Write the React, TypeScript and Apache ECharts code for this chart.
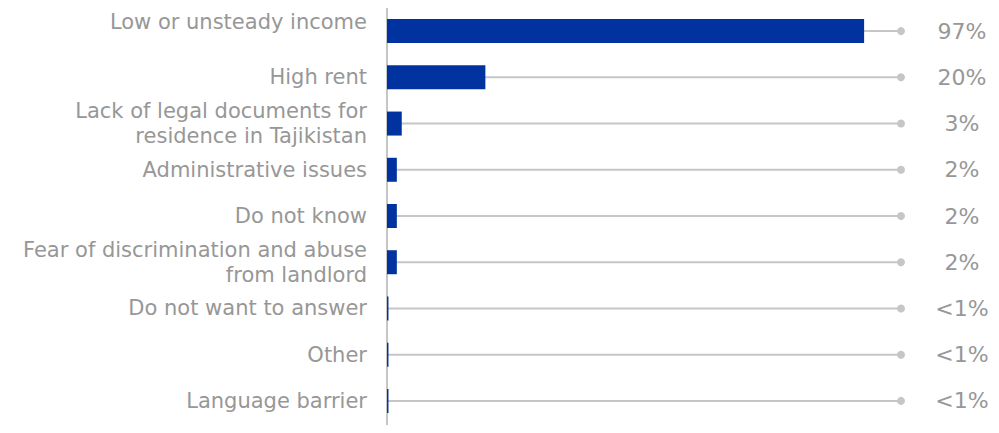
import React, { useEffect, useRef } from "react";
import * as echarts from "echarts";

const categories = [
  "Low or unsteady income",
  "High rent",
  "Lack of legal documents for\nresidence in Tajikistan",
  "Administrative issues",
  "Do not know",
  "Fear of discrimination and abuse\nfrom landlord",
  "Do not want to answer",
  "Other",
  "Language barrier",
];
const values = [97, 20, 3, 2, 2, 2, 0.3, 0.3, 0.3];
const valueLabels = ["97%", "20%", "3%", "2%", "2%", "2%", "<1%", "<1%", "<1%"];
const trackEnd = 104.5;

const TEXT = "#979797";
const TRACK = "#c6c6c6";
const BAR = "#0033a0";
const FONT = "'DejaVu Sans', sans-serif";
const CAT_SIZE = 21;
const CAT_LH = 24.6;

export default function App() {
  const ref = useRef<HTMLDivElement>(null);
  useEffect(() => {
    if (!ref.current) return;
    const chart = echarts.init(ref.current, null, { renderer: "svg" });
    chart.setOption({
      animation: false,
      grid: { left: 387, top: 8, width: 514, height: 416 },
      xAxis: {
        type: "value",
        min: 0,
        max: trackEnd,
        show: false,
      },
      yAxis: [
        {
          type: "category",
          data: categories,
          inverse: true,
          axisTick: { show: false },
          axisLine: { show: true, lineStyle: { color: TRACK, width: 2 } },
          axisLabel: {
            margin: 20,
            color: TEXT,
            fontSize: CAT_SIZE,
            fontFamily: FONT,
            lineHeight: CAT_LH,
            align: "right",
            formatter: (v: string, i: number) => (i === 0 ? `{up|${v}}` : v),
            rich: {
              up: {
                color: TEXT,
                fontSize: CAT_SIZE,
                fontFamily: FONT,
                lineHeight: CAT_LH,
                padding: [0, 0, 18, 0],
              },
            },
          },
        },
        {
          type: "category",
          data: valueLabels,
          inverse: true,
          position: "right",
          axisTick: { show: false },
          axisLine: { show: false },
          axisLabel: {
            margin: 61,
            color: TEXT,
            fontSize: 22,
            fontFamily: FONT,
            align: "center",
            padding: [4, 0, 0, 0],
          },
        },
      ],
      graphic: [
        {
          type: "line",
          shape: { x1: 387, y1: 423, x2: 387, y2: 433 },
          style: { stroke: TRACK, lineWidth: 2 },
        },
      ],
      series: [
        {
          type: "custom",
          z: 1,
          data: categories.map((_, i) => [trackEnd, i]),
          encode: { x: 0, y: 1 },
          renderItem: (params: any, api: any) => {
            const idx = api.value(1);
            const start = api.coord([0, idx]);
            const end = api.coord([api.value(0), idx]);
            return {
              type: "group",
              children: [
                {
                  type: "line",
                  shape: { x1: start[0], y1: start[1], x2: end[0], y2: end[1] },
                  style: { stroke: TRACK, lineWidth: 2 },
                },
                {
                  type: "circle",
                  shape: { cx: end[0], cy: end[1], r: 4 },
                  style: { fill: TRACK },
                },
              ],
            };
          },
        },
        {
          type: "bar",
          z: 2,
          data: values,
          barWidth: 24,
          itemStyle: { color: BAR },
        },
      ],
    });
    return () => chart.dispose();
  }, []);
  return <div ref={ref} style={{ width: 999, height: 433, margin: -8 }} />;
}
